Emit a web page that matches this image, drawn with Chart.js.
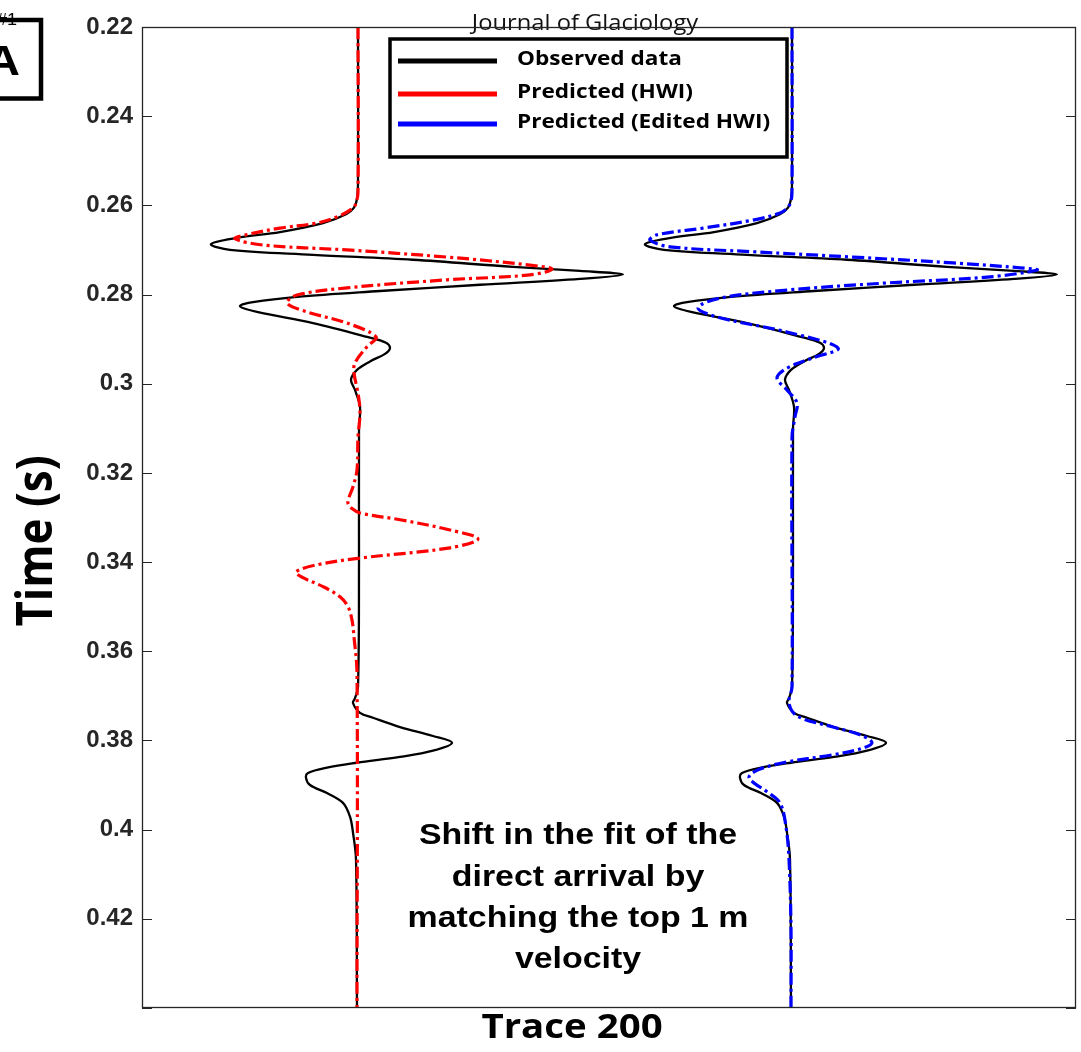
<!DOCTYPE html>
<html>
<head>
<meta charset="utf-8">
<script src="https://cdn.jsdelivr.net/npm/chart.js@4/dist/chart.umd.min.js"></script>
<style>
html,body{margin:0;padding:0;background:#ffffff;}
canvas{display:block;}
</style>
</head>
<body>
<canvas id="c" width="1081" height="1052"></canvas>
<script>
// ---------- DATA ----------
// Observed data (trace 200): time (s) and normalized amplitude
const obsTime = [0.220, 0.255, 0.2585, 0.2605, 0.2620, 0.2640, 0.2660, 0.2673, 0.2687, 0.2700,
  0.2711, 0.2722, 0.2738, 0.2747, 0.2755, 0.2765, 0.2778, 0.2792, 0.2805, 0.2817,
  0.2826, 0.2839, 0.2864, 0.2895, 0.2908, 0.2920, 0.2933, 0.2950, 0.2969, 0.2991,
  0.3014, 0.3052, 0.310, 0.340, 0.368, 0.3705, 0.3716, 0.3738, 0.3749, 0.3770,
  0.3790, 0.3805, 0.3823, 0.3837, 0.3850, 0.3861, 0.3873, 0.3884, 0.3900, 0.3918,
  0.3940, 0.3971, 0.4007, 0.4067, 0.440];
const obsAmp = [0.00, 0.00, -0.01, -0.04, -0.12, -0.35, -0.78, -1.21, -1.47, -1.28,
  -0.45, 0.55, 1.55, 2.22, 2.65, 2.22, 1.22, 0.22, -0.61, -1.05,
  -1.18, -1.01, -0.45, 0.09, 0.28, 0.32, 0.27, 0.12, -0.01, -0.07,
  -0.03, 0.02, 0.01, 0.01, 0.00, -0.03, -0.05, 0.02, 0.15, 0.42,
  0.75, 0.94, 0.75, 0.42, -0.01, -0.31, -0.50, -0.52, -0.48, -0.31,
  -0.15, -0.08, -0.05, -0.02, -0.01];

// Predicted (HWI)
const hwiTime = [0.220, 0.257, 0.2595, 0.2606, 0.2625, 0.2640, 0.2651, 0.2665, 0.2675, 0.2689,
  0.2700, 0.2716, 0.2734, 0.2743, 0.2756, 0.2767, 0.2785, 0.2801, 0.2819, 0.2839,
  0.2864, 0.2895, 0.2917, 0.2953, 0.2976, 0.3021, 0.3065, 0.312, 0.3193, 0.3231,
  0.3255, 0.3268, 0.3280, 0.3290, 0.3305, 0.3328, 0.3348, 0.3368, 0.3391, 0.3406,
  0.3422, 0.3435, 0.3455, 0.3478, 0.3500, 0.3530, 0.3568, 0.3648, 0.440];
const hwiAmp = [0.00, 0.00, -0.02, -0.05, -0.20, -0.42, -0.78, -1.10, -1.23, -0.95,
  -0.11, 0.89, 1.72, 1.94, 1.72, 0.89, -0.11, -0.61, -0.71, -0.51,
  -0.11, 0.18, 0.09, -0.03, -0.04, 0.00, 0.02, 0.00, -0.01, -0.05,
  -0.09, -0.10, -0.06, 0.02, 0.42, 0.92, 1.20, 0.92, 0.02, -0.41,
  -0.62, -0.55, -0.35, -0.18, -0.10, -0.06, -0.04, -0.01, -0.01];

// Predicted (Edited HWI)
const editTime = [0.220, 0.257, 0.2590, 0.2604, 0.2617, 0.2633, 0.2651, 0.2666, 0.2678, 0.2693,
  0.2704, 0.2716, 0.2729, 0.2740, 0.2745, 0.2761, 0.2774, 0.2790, 0.2808, 0.2830,
  0.2852, 0.2884, 0.2920, 0.2942, 0.2965, 0.2987, 0.3014, 0.3043, 0.3074, 0.312,
  0.368, 0.3716, 0.3745, 0.3770, 0.3787, 0.3805, 0.3819, 0.3832, 0.3850, 0.3866,
  0.3882, 0.3897, 0.3915, 0.3940, 0.3994, 0.4067, 0.4220, 0.440];
const editAmp = [0.00, 0.00, -0.01, -0.04, -0.12, -0.39, -0.89, -1.35, -1.42, -1.22,
  -0.39, 0.61, 1.61, 2.28, 2.45, 1.95, 0.95, -0.05, -0.72, -0.94,
  -0.72, -0.05, 0.46, 0.21, -0.05, -0.15, -0.05, 0.05, 0.03, 0.00,
  0.00, -0.03, 0.05, 0.41, 0.68, 0.80, 0.68, 0.41, -0.09, -0.34,
  -0.43, -0.37, -0.25, -0.12, -0.06, -0.03, -0.01, -0.01];

// trace baselines (left panel, right panel)
const traceOffsets = [0.0, 4.34];
// time axis ticks
const timeTicks = [0.22, 0.24, 0.26, 0.28, 0.30, 0.32, 0.34, 0.36, 0.38, 0.40, 0.42, 0.44];
const legendLabels = ['Observed data', 'Predicted (HWI)', 'Predicted (Edited HWI)'];
const seriesColors = ['#000000', '#ff0000', '#0000ff'];
const noteLines = ['Shift in the fit of the', 'direct arrival by', 'matching the top 1 m', 'velocity'];

// ---------- BUILD ----------
function toPoints(times, amps, offset) {
  return times.map((t, i) => ({ x: offset + amps[i], y: t }));
}

const SX = 1.13; // horizontal stretch of the source image text
function sText(ctx, text, x, y, font, align, baseline, color, rotate) {
  ctx.save();
  ctx.translate(x, y);
  ctx.scale(SX, 1);
  if (rotate) ctx.rotate(-Math.PI / 2);
  ctx.font = font;
  ctx.textAlign = align;
  ctx.textBaseline = baseline;
  ctx.fillStyle = color;
  ctx.fillText(text, 0, 0);
  ctx.restore();
}

const decorPlugin = {
  id: 'decor',
  afterDraw(chart) {
    const ctx = chart.ctx;
    const a = chart.chartArea;
    const ys = chart.scales.y;
    ctx.save();
    // journal header
    sText(ctx, 'Journal of Glaciology', 585, 30, '21px "Open Sans"', 'center', 'alphabetic', '#111');
    // frame
    ctx.strokeStyle = '#262626';
    ctx.lineWidth = 1.3;
    ctx.strokeRect(a.left + 0.5, a.top + 0.5, a.right - a.left - 1, a.bottom - a.top - 1);
    // inward ticks both sides
    ctx.lineWidth = 1.2;
    ctx.beginPath();
    timeTicks.forEach(v => {
      const py = Math.round(ys.getPixelForValue(v)) + 0.5;
      ctx.moveTo(a.left, py); ctx.lineTo(a.left + 10, py);
      ctx.moveTo(a.right, py); ctx.lineTo(a.right - 10, py);
    });
    ctx.stroke();

    // legend
    ctx.fillStyle = '#ffffff';
    ctx.fillRect(390, 39, 397, 118);
    ctx.strokeStyle = '#000000';
    ctx.lineWidth = 3.5;
    ctx.strokeRect(390, 39, 397, 118);
    const rows = [61, 94, 124];
    legendLabels.forEach((lab, i) => {
      ctx.strokeStyle = seriesColors[i];
      ctx.lineWidth = 5;
      ctx.beginPath();
      ctx.moveTo(398, rows[i]); ctx.lineTo(497, rows[i]);
      ctx.stroke();
      sText(ctx, lab, 517, rows[i] + 4, 'bold 20px "Open Sans"', 'left', 'alphabetic', '#000');
    });

    // annotation
    const ly = [844, 886, 927, 968];
    noteLines.forEach((t, i) => {
      sText(ctx, t, 578, ly[i], 'bold 30px "Liberation Sans"', 'center', 'alphabetic', '#000');
    });

    // axis titles
    sText(ctx, 'Trace 200', 572, 1038, 'bold 34px "Open Sans"', 'center', 'alphabetic', '#000');
    sText(ctx, 'Time (s)', 52, 541, 'bold 44px "Open Sans"', 'center', 'alphabetic', '#000', true);

    // panel label
    sText(ctx, '#1', 17, 25, '16px "Liberation Sans"', 'right', 'alphabetic', '#000');
    sText(ctx, 'A', 20, 75, 'bold 42px "Liberation Sans"', 'right', 'alphabetic', '#000');
    ctx.strokeStyle = '#000';
    ctx.lineWidth = 4.5;
    ctx.strokeRect(-10, 20, 51, 78.5);
    ctx.restore();
  }
};

const lineBase = { showLine: true, pointRadius: 0, pointHoverRadius: 0, tension: 0.35, fill: false };

const datasets = [
  Object.assign({}, lineBase, {
    label: legendLabels[1], data: toPoints(hwiTime, hwiAmp, traceOffsets[0]),
    borderColor: seriesColors[1], borderWidth: 3.2, borderDash: [12, 4, 3, 4], order: 1 }),
  Object.assign({}, lineBase, {
    label: legendLabels[2], data: toPoints(editTime, editAmp, traceOffsets[1]),
    borderColor: seriesColors[2], borderWidth: 3.2, borderDash: [12, 4, 3, 4], order: 1 }),
  Object.assign({}, lineBase, {
    label: legendLabels[0], data: toPoints(obsTime, obsAmp, traceOffsets[0]),
    borderColor: seriesColors[0], borderWidth: 2.3, order: 2 }),
  Object.assign({}, lineBase, {
    label: legendLabels[0] + ' ', data: toPoints(obsTime, obsAmp, traceOffsets[1]),
    borderColor: seriesColors[0], borderWidth: 2.3, order: 2 })
];

new Chart(document.getElementById('c'), {
  type: 'scatter',
  data: { datasets },
  options: {
    responsive: false,
    animation: false,
    devicePixelRatio: 1,
    events: [],
    layout: { padding: { top: 27, right: 5, bottom: 44, left: 0 } },
    plugins: { legend: { display: false }, tooltip: { enabled: false }, title: { display: false } },
    scales: {
      x: { type: 'linear', display: false, min: -2.16, max: 7.18 },
      y: {
        type: 'linear', reverse: true, min: 0.22, max: 0.44,
        afterFit: s => { s.width = 142; },
        afterBuildTicks: s => { s.ticks = timeTicks.map(v => ({ value: v })); },
        grid: { display: false, drawTicks: false },
        border: { display: false },
        ticks: {
          padding: 9,
          color: '#262626',
          font: { family: '"Liberation Sans"', size: 24, weight: 'bold' },
          callback: v => (Math.abs(v - 0.44) < 1e-9 ? '' : String(Number(v.toFixed(2))))
        }
      }
    }
  },
  plugins: [decorPlugin]
});
</script>
</body>
</html>
